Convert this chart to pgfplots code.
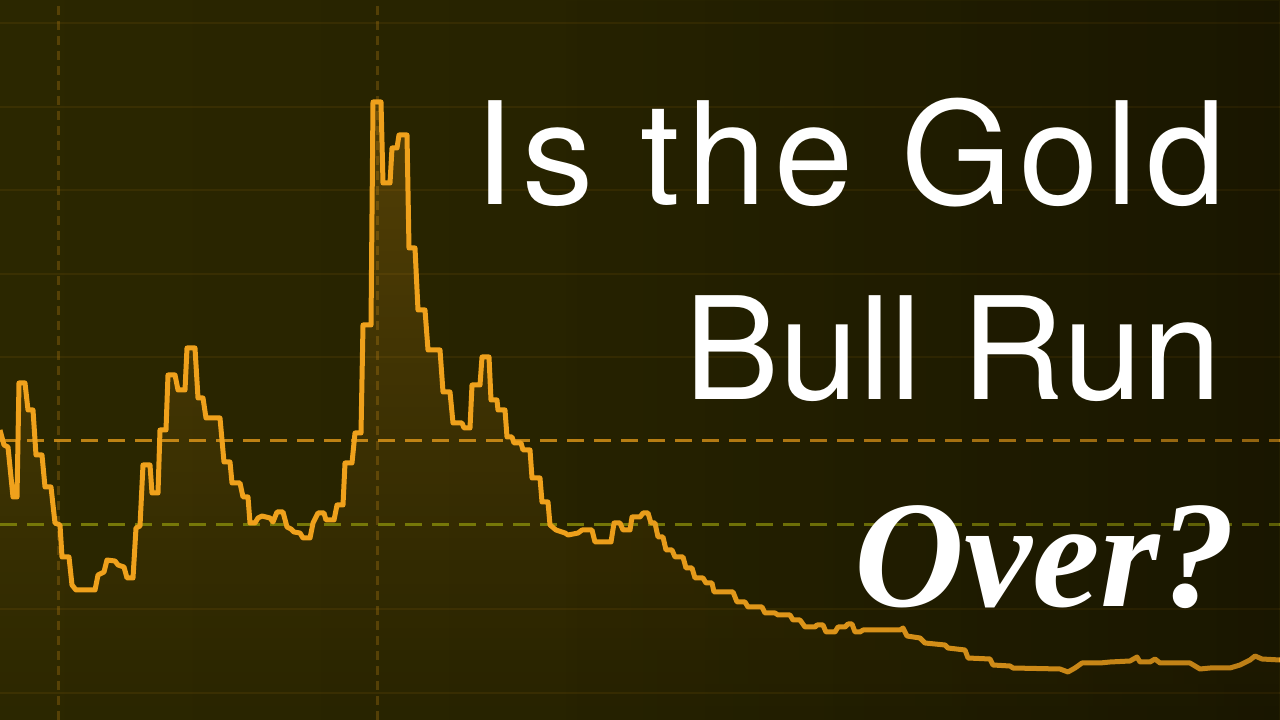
\documentclass[border=0pt]{standalone}
\usepackage{fontspec}
\setmainfont{TeX Gyre Heros}
\newfontfamily\serifbi{Liberation Serif}
\usepackage{pgfplots}
\usepackage{pgfplotstable}
\pgfplotsset{compat=1.18}
\usetikzlibrary{fadings}

\definecolor{bgL}{HTML}{2B2700}
\definecolor{bgR}{HTML}{211D00}
\definecolor{gold}{HTML}{EFA11C}
\definecolor{olive}{HTML}{767808}

% price line, traced in picture units (x: 0..1280, y: 0..720)
\pgfplotstableread{
x y
0 290
4 275
8 273
13 223
17 223
19 337
25 337
28 310
33 310
36 265
42 265
45 233
51 233
55 197
60 195
62 163
69 163
72 135
76 130
95 130
98 145
104 148
107 160
115 159
118 155
124 153
127 142
133 142
136 192
140 194
143 255
150 255
152 227
158 227
160 290
166 290
168 345
175 345
178 330
185 330
187 372
195 372
198 322
203 322
206 302
220 302
224 258
230 258
232 237
240 237
243 223
248 223
250 197
255 197
258 202
262 204
270 202
273 198
277 208
283 208
287 193
291 191
294 188
300 187
303 182
310 182
313 197
318 207
324 207
326 200
334 200
337 215
343 215
345 257
352 257
355 287
361 287
363 395
371 395
373 618
381 618
383 537
390 537
392 572
397 572
399 585
407 585
409 472
415 472
418 410
425 410
428 370
440 370
443 328
450 328
453 297
462 297
464 292
470 292
472 335
480 335
482 363
489 363
491 320
497 320
498 310
505 310
507 283
512 283
514 277
521 277
523 270
530 270
532 242
540 242
542 218
548 218
550 195
556 190
565 187
568 185
578 187
582 190
592 190
595 178
611 178
614 197
620 197
623 190
630 190
632 203
640 203
643 207
648 207
651 197
655 197
658 183
663 183
666 170
672 170
675 163
683 163
686 152
692 152
695 142
703 142
706 137
712 137
714 128
733 128
737 118
745 118
748 113
762 113
765 107
775 107
778 105
790 105
793 100
800 100
805 93
815 93
817 95
823 95
826 88
835 88
838 93
845 93
848 96
852 96
855 88
860 88
863 90
900 90
903 92
907 84
920 82
925 77
945 75
948 72
965 70
968 62
990 61
993 55
1010 54
1013 52
1060 51
1068 48
1075 52
1082 57
1100 57
1110 58
1130 59
1137 63
1140 58
1150 58
1155 61
1160 57
1190 57
1200 51
1210 52
1230 52
1240 55
1250 60
1255 64
1262 61
1280 60
}\goldline

\begin{document}
\begin{tikzpicture}
\shade[left color=bgL, right color=bgR] (0,0) rectangle (1280bp,720bp);
\begin{axis}[
    at={(0,0)}, anchor=south west,
    width=1280bp, height=720bp, scale only axis,
    xmin=0, xmax=1280, ymin=0, ymax=720,
    axis line style={draw=none},
    major tick length=0pt,
    xtick={58,377},
    ytick={27,111,363,446,530,613,697},
    xticklabels={}, yticklabels={},
    xmajorgrids, ymajorgrids,
    x grid style={gold, opacity=0.22, line width=3bp, dash pattern=on 9bp off 6bp},
    y grid style={gold, opacity=0.08, line width=2bp},
]
\addplot[draw=none, fill=gold, fill opacity=0.22, path fading=south] table {\goldline} \closedcycle;
\addplot[gold, opacity=0.75, line width=3bp, dash pattern=on 17bp off 10bp]
    coordinates {(0,279) (1280,279)};
\addplot[olive, line width=3bp, dash pattern=on 17bp off 10bp]
    coordinates {(0,195) (1280,195)};
\addplot[gold, line width=5bp, line join=round] table {\goldline};
\end{axis}

% darken the right side, where the title sits
\fill[black, opacity=0.22, path fading=west] (560bp,0) rectangle (1280bp,720bp);

\node[anchor=base east, inner sep=0pt, text=white,
      font=\fontsize{143}{143}\selectfont\addfontfeature{LetterSpace=5.5}] at (1226bp,515bp) {Is the Gold};
\node[anchor=base east, inner sep=0pt, text=white,
      font=\fontsize{143}{143}\selectfont] at (1222bp,320bp) {Bull Run};
\node[anchor=base east, inner sep=0pt, text=white,
      font=\serifbi\bfseries\itshape\fontsize{153}{153}\selectfont] at (1236bp,113bp) {Over?};

\pgfresetboundingbox
\useasboundingbox (0,0) rectangle (1280bp,720bp);
\end{tikzpicture}
\end{document}
